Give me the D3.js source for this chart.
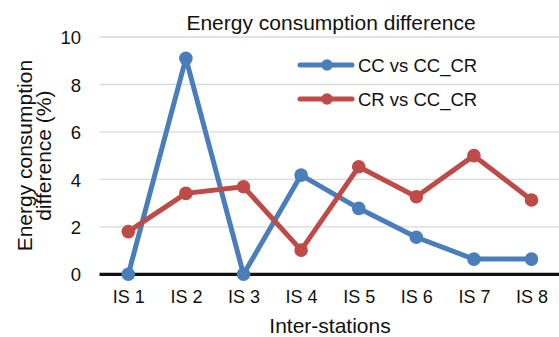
<!DOCTYPE html>
<html>
<head>
<meta charset="utf-8">
<script src="https://cdn.jsdelivr.net/npm/d3@7"></script>
<style>
  html, body { margin: 0; padding: 0; background: #fff; }
  svg { display: block; font-family: "Liberation Sans", Arial, Helvetica, sans-serif; }
</style>
</head>
<body>
<svg id="chart" width="559" height="337"></svg>
<script>
// Inter-station categories
const categories = ["IS 1", "IS 2", "IS 3", "IS 4", "IS 5", "IS 6", "IS 7", "IS 8"];
// Energy consumption difference (%) per series
const ccVsCcCr = [0, 9.1, 0, 4.18, 2.78, 1.56, 0.64, 0.64];
const crVsCcCr = [1.8, 3.41, 3.69, 1.02, 4.53, 3.27, 5.0, 3.13];
const yTicks = [0, 2, 4, 6, 8, 10];
const seriesNames = ["CC vs CC_CR", "CR vs CC_CR"];
const seriesColors = ["#4a7ebb", "#be4b48"];

const svg = d3.select("#chart");
const plot = { left: 99.5, right: 560.3, top: 37, bottom: 274.3 };

const x = d3.scalePoint().domain(categories).range([plot.left, plot.right]).padding(0.5);
const y = d3.scaleLinear().domain([0, 10]).range([plot.bottom, plot.top]);

// Horizontal gridlines
svg.append("g")
  .selectAll("line")
  .data(yTicks.filter(d => d !== 0))
  .join("line")
  .attr("x1", plot.left).attr("x2", 559)
  .attr("y1", d => y(d)).attr("y2", d => y(d))
  .attr("stroke", "#d9d9d9").attr("stroke-width", 1.4);

// Y tick labels
const yAxis = d3.axisLeft(y).tickValues(yTicks).tickSize(0).tickPadding(0).tickFormat(d3.format("d"));
const gy = svg.append("g").attr("transform", `translate(${81},0)`).call(yAxis);
gy.select(".domain").remove();
gy.selectAll("text").attr("font-size", 18.5).attr("fill", "#111").attr("font-family", null).attr("dy", "0.36em");

// X axis
const xAxis = d3.axisBottom(x).tickSize(0).tickPadding(0);
const gx = svg.append("g").attr("transform", `translate(0,${plot.bottom})`).call(xAxis);
gx.select(".domain").remove();
gx.selectAll("text").attr("font-size", 18).attr("fill", "#111").attr("font-family", null)
  .attr("dy", null).attr("y", 29);
svg.append("line")
  .attr("x1", plot.left).attr("x2", 559)
  .attr("y1", plot.bottom).attr("y2", plot.bottom)
  .attr("stroke", "#111").attr("stroke-width", 3.2);

// Series lines with markers (second series drawn on top)
const series = [ccVsCcCr, crVsCcCr];
const line = d3.line().x((d, i) => x(categories[i])).y(d => y(d));
series.forEach((vals, s) => {
  const g = svg.append("g");
  g.append("path").datum(vals)
    .attr("d", line)
    .attr("fill", "none")
    .attr("stroke", seriesColors[s])
    .attr("stroke-width", 5)
    .attr("stroke-linejoin", "round")
    .attr("stroke-linecap", "round");
  g.selectAll("circle").data(vals).join("circle")
    .attr("cx", (d, i) => x(categories[i]))
    .attr("cy", d => y(d))
    .attr("r", 6.8)
    .attr("fill", seriesColors[s]);
});

// Legend
const legend = svg.append("g");
seriesNames.forEach((name, i) => {
  const ly = 65 + i * 34;
  legend.append("line")
    .attr("x1", 300).attr("x2", 352).attr("y1", ly).attr("y2", ly)
    .attr("stroke", seriesColors[i]).attr("stroke-width", 5).attr("stroke-linecap", "round");
  legend.append("circle").attr("cx", 327).attr("cy", ly).attr("r", 5.8).attr("fill", seriesColors[i]);
  legend.append("text").attr("x", 358).attr("y", ly + 6.7)
    .attr("font-size", 18.5).attr("fill", "#111").text(name);
});

// Title
svg.append("text").attr("x", 331).attr("y", 30).attr("text-anchor", "middle")
  .attr("font-size", 21).attr("fill", "#111").text("Energy consumption difference");

// Axis titles
svg.append("text").attr("x", 330).attr("y", 333).attr("text-anchor", "middle")
  .attr("font-size", 21).attr("fill", "#111").text("Inter-stations");

const yTitle = svg.append("text")
  .attr("transform", `translate(32,${(plot.top + plot.bottom) / 2}) rotate(-90)`)
  .attr("text-anchor", "middle").attr("font-size", 21).attr("fill", "#111");
yTitle.append("tspan").attr("x", 0).attr("y", 0).text("Energy consumption");
yTitle.append("tspan").attr("x", 0).attr("y", 18.5).text("difference (%)");
</script>
</body>
</html>
